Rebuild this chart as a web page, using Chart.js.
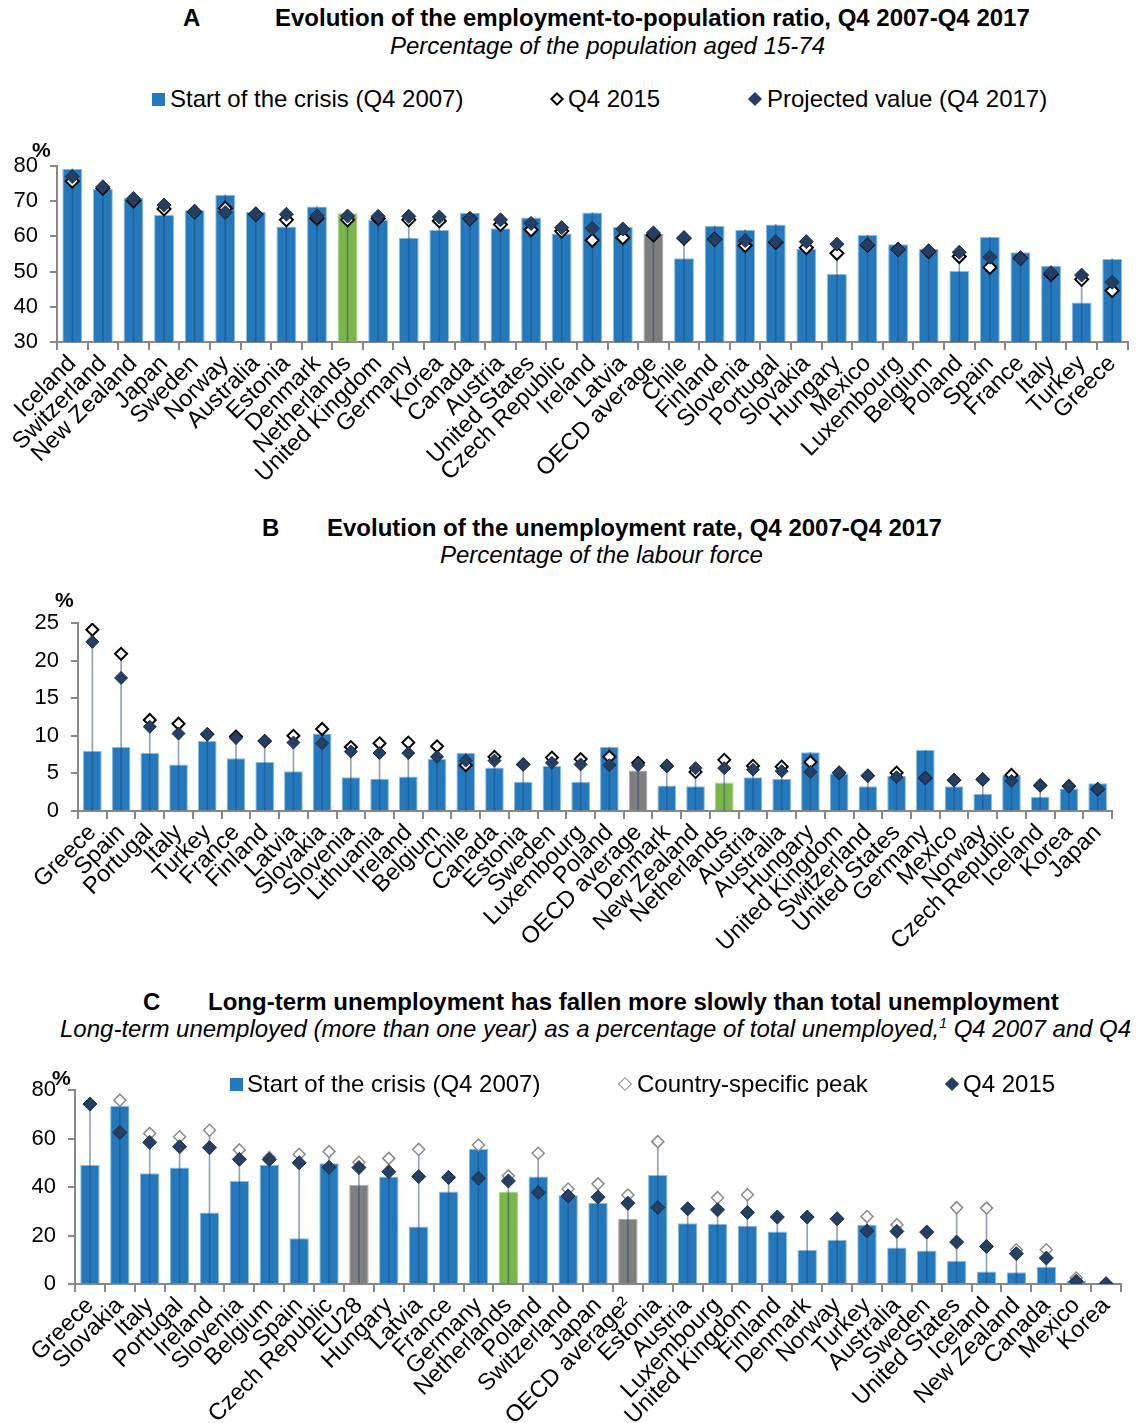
<!DOCTYPE html>
<html>
<head>
<meta charset="utf-8">
<script src="https://cdn.jsdelivr.net/npm/chart.js@4.4.1/dist/chart.umd.min.js"></script>
<style>
  body { margin: 0; width: 1136px; height: 1423px; background: #fff; position: relative; overflow: hidden;
         font-family: "Liberation Sans", Arial, sans-serif; color: #000; }
  canvas { position: absolute; left: 0; }
  .t { position: absolute; white-space: nowrap; line-height: 24px; }
  .h { font-weight: bold; font-size: 24px; }
  .s { font-style: italic; font-size: 24px; }
  .lg { font-size: 24px; }
  .sup { font-size: 14px; position: relative; top: -9px; line-height: 0; }
  .pc { position: absolute; font-weight: bold; font-size: 21px; line-height: 21px; }
  .sq { position: absolute; width: 13px; height: 13px; background: #2479bd; }
  .dm { position: absolute; width: 10px; height: 10px; transform: rotate(45deg); box-sizing: border-box; }
  .dm.hol { background: #fff; border: 2px solid #000; }
  .dm.holc { background: #fff; border: 1.5px solid #888; }
  .dm.fil { background: #243f62; }
</style>
</head>
<body>

<canvas id="chartA" width="1136" height="340" style="top:140px"></canvas>
<canvas id="chartB" width="1136" height="370" style="top:590px"></canvas>
<canvas id="chartC" width="1136" height="363" style="top:1060px"></canvas>

<!-- panel A text -->
<div class="t h" style="left:183px;top:6px">A</div>
<div class="t h" style="left:275px;top:6px">Evolution of the employment-to-population ratio, Q4 2007-Q4 2017</div>
<div class="t s" style="left:390px;top:34px">Percentage of the population aged 15-74</div>
<div class="sq" style="left:152px;top:93px"></div>
<div class="t lg" style="left:170px;top:87px">Start of the crisis (Q4 2007)</div>
<div class="dm hol" style="left:552px;top:94px"></div>
<div class="t lg" style="left:568px;top:87px">Q4 2015</div>
<div class="dm fil" style="left:750px;top:94px"></div>
<div class="t lg" style="left:767px;top:87px">Projected value (Q4 2017)</div>
<div class="pc" style="left:32px;top:139px">%</div>

<!-- panel B text -->
<div class="t h" style="left:262px;top:516px">B</div>
<div class="t h" style="left:327px;top:516px">Evolution of the unemployment rate, Q4 2007-Q4 2017</div>
<div class="t s" style="left:440px;top:543px">Percentage of the labour force</div>
<div class="pc" style="left:55px;top:589px">%</div>

<!-- panel C text -->
<div class="t h" style="left:143px;top:990px">C</div>
<div class="t h" style="left:208px;top:990px">Long-term unemployment has fallen more slowly than total unemployment</div>
<div class="t s" style="left:60px;top:1017px">Long-term unemployed (more than one year) as a percentage of total unemployed,<span class="sup">1</span> Q4 2007 and Q4</div>
<div class="sq" style="left:230px;top:1078px"></div>
<div class="t lg" style="left:247px;top:1072px">Start of the crisis (Q4 2007)</div>
<div class="dm holc" style="left:620px;top:1079px"></div>
<div class="t lg" style="left:637px;top:1072px">Country-specific peak</div>
<div class="dm fil" style="left:947px;top:1079px"></div>
<div class="t lg" style="left:963px;top:1072px">Q4 2015</div>
<div class="pc" style="left:52px;top:1067px">%</div>

<script>
// ─── DATA: PANEL A (employment-to-population ratio, %) ───────────────────────
const A_CATS = ["Iceland", "Switzerland", "New Zealand", "Japan", "Sweden", "Norway", "Australia",
  "Estonia", "Denmark", "Netherlands", "United Kingdom", "Germany", "Korea", "Canada", "Austria",
  "United States", "Czech Republic", "Ireland", "Latvia", "OECD average", "Chile", "Finland",
  "Slovenia", "Portugal", "Slovakia", "Hungary", "Mexico", "Luxembourg", "Belgium", "Poland",
  "Spain", "France", "Italy", "Turkey", "Greece"];
const A_START = [79.2, 73.5, 71.0, 66.1, 67.4, 71.8, 67.0, 62.8, 68.5, 66.6, 64.8, 59.6, 61.8, 66.7, 62.3,
  65.4, 60.8, 66.8, 62.7, 60.7, 53.8, 63.0, 61.9, 63.4, 56.4, 49.3, 60.4, 57.8, 56.5, 50.2,
  59.8, 55.5, 51.6, 41.2, 53.6];
const A_Q2015 = [75.7, 73.7, 70.1, 67.8, 67.0, 68.0, 66.3, 64.7, 65.1, 64.7, 65.1, 64.7, 64.4, 65.0, 63.4,
  61.9, 61.5, 58.9, 59.6, 60.4, 59.5, 59.2, 57.4, 58.3, 56.8, 55.2, 57.5, 56.3, 55.7, 54.3,
  51.2, 53.8, 49.2, 47.8, 44.6];
const A_PROJ = [77.0, 74.1, 70.8, 68.9, 67.0, 66.8, 66.3, 66.3, 65.8, 65.8, 65.7, 65.7, 65.5, 65.1, 64.7,
  63.7, 62.5, 62.3, 62.1, 61.0, 59.6, 59.2, 58.8, 58.5, 58.5, 57.8, 57.6, 56.3, 55.9, 55.5,
  54.1, 53.8, 49.7, 49.0, 47.0];

// ─── DATA: PANEL B (unemployment rate, %) ────────────────────────────────────
const B_CATS = ["Greece", "Spain", "Portugal", "Italy", "Turkey", "France", "Finland", "Latvia",
  "Slovakia", "Slovenia", "Lithuania", "Ireland", "Belgium", "Chile", "Canada", "Estonia", "Sweden",
  "Luxembourg", "Poland", "OECD average", "Denmark", "New Zealand", "Netherlands", "Austria",
  "Australia", "Hungary", "United Kingdom", "Switzerland", "United States", "Germany", "Mexico",
  "Norway", "Czech Republic", "Iceland", "Korea", "Japan"];
const B_START = [8.0, 8.5, 7.7, 6.2, 9.3, 7.0, 6.5, 5.3, 10.3, 4.5, 4.3, 4.6, 6.9, 7.7, 5.8, 3.9, 6.0,
  3.9, 8.5, 5.4, 3.4, 3.3, 3.8, 4.5, 4.3, 7.8, 5.0, 3.3, 4.7, 8.1, 3.3, 2.3, 4.8, 1.9, 3.0, 3.7];
const B_Q2015 = [24.1, 20.9, 12.1, 11.6, 10.2, 9.9, 9.3, 10.0, 10.9, 8.5, 9.0, 9.1, 8.6, 6.1, 7.2, 6.2, 7.1,
  6.9, 7.2, 6.4, 6.0, 5.2, 6.8, 6.0, 5.9, 6.5, 5.1, 4.7, 5.1, 4.4, 4.1, 4.2, 4.8, 3.4, 3.3, 2.9];
const B_PROJ = [22.5, 17.7, 11.2, 10.3, 10.2, 9.7, 9.3, 9.1, 9.0, 7.9, 7.7, 7.7, 7.2, 6.7, 6.7, 6.2, 6.4,
  6.2, 6.1, 6.1, 6.0, 5.7, 5.7, 5.5, 5.3, 5.2, 5.1, 4.7, 4.5, 4.4, 4.1, 4.2, 4.0, 3.4, 3.3, 2.9];

// ─── DATA: PANEL C (long-term unemployed, % of unemployed) ───────────────────
const C_CATS = ["Greece", "Slovakia", "Italy", "Portugal", "Ireland", "Slovenia", "Belgium", "Spain",
  "Czech Republic", "EU28", "Hungary", "Latvia", "France", "Germany", "Netherlands", "Poland",
  "Switzerland", "Japan", "OECD average²", "Estonia", "Austria", "Luxembourg", "United Kingdom",
  "Finland", "Denmark", "Norway", "Turkey", "Australia", "Sweden", "United States", "Iceland",
  "New Zealand", "Canada", "Mexico", "Korea"];
const C_START = [49.1, 73.5, 45.7, 48.0, 29.5, 42.5, 49.1, 18.9, 49.8, 40.9, 44.3, 23.7, 38.1, 55.7, 38.0,
  44.3, 36.6, 33.5, 26.9, 45.0, 25.1, 24.8, 24.0, 21.7, 14.1, 18.2, 24.4, 15.1, 13.8, 9.6, 5.2,
  4.8, 7.1, 1.4, 0.4];
const C_PEAK = [74.2, 75.8, 62.1, 60.7, 63.4, 55.3, 52.1, 53.5, 54.6, 50.2, 51.8, 55.5, 44.2, 57.3, 44.6,
  53.9, 39.2, 41.3, 36.7, 58.7, 31.0, 35.6, 36.8, 27.6, 27.6, 26.9, 27.8, 24.4, 21.4, 31.5, 31.3,
  14.1, 14.1, 2.5, 0.3];
const C_Q2015 = [74.2, 62.5, 58.4, 56.6, 56.2, 51.4, 51.3, 50.0, 48.1, 48.0, 46.3, 44.3, 43.9, 43.6, 42.5,
  37.7, 36.3, 35.8, 33.3, 31.5, 31.0, 30.6, 29.5, 27.6, 27.6, 26.9, 21.9, 21.7, 21.4, 17.3, 15.5,
  12.5, 10.7, 1.1, 0.1];

// ─── STYLE HELPERS ───────────────────────────────────────────────────────────
const FONT = "'Liberation Sans', Arial, sans-serif";
const AXIS_GREY = "#878787";

function barColor(cat) {
  if (cat.startsWith("OECD average") || cat === "EU28") return "#7f7f7f";
  if (cat === "Netherlands") return "#7ab648";
  return "#2479bd";
}
function barEdge(cat) {
  if (cat.startsWith("OECD average") || cat === "EU28") return "#a6a6a6";
  if (cat === "Netherlands") return "#a8d080";
  return "#8ebde3";
}

// ─── PANEL BUILDER ───────────────────────────────────────────────────────────
function makePanel(id, cats, start, hollow, filled, cfg) {
  const top = cats.map((_, i) => Math.max(start[i], hollow[i], filled[i]));
  return new Chart(document.getElementById(id), {
    type: "bar",
    data: {
      labels: cats,
      datasets: [
        {
          data: start,
          backgroundColor: cats.map(barColor),
          borderColor: cats.map(barEdge),
          borderWidth: 1,
          categoryPercentage: 1,
          barPercentage: 0.65,
          grouped: false,
          order: 4,
        },
        {
          data: top.map(v => [cfg.min, v]),
          backgroundColor: "rgba(38,70,120,0.5)",
          barThickness: 1,
          grouped: false,
          order: 3,
        },
        {
          type: "line",
          data: hollow,
          showLine: false,
          pointStyle: "rectRot",
          pointRadius: cfg.hollowR,
          pointBackgroundColor: "#fff",
          pointBorderColor: cfg.hollowEdge,
          pointBorderWidth: cfg.hollowW,
          order: 2,
        },
        {
          type: "line",
          data: filled,
          showLine: false,
          pointStyle: "rectRot",
          pointRadius: cfg.filledR,
          pointBackgroundColor: "#243f62",
          pointBorderColor: "#1b2e48",
          pointBorderWidth: 1,
          order: 1,
        },
      ],
    },
    options: {
      responsive: false,
      animation: false,
      devicePixelRatio: 1,
      layout: { padding: { top: cfg.padTop, right: cfg.padRight, left: 0, bottom: 0 } },
      plugins: { legend: { display: false }, tooltip: { enabled: false }, title: { display: false } },
      scales: {
        x: {
          ticks: {
            color: "#000", font: { family: FONT, size: 23.5 },
            autoSkip: false, maxRotation: 45, minRotation: 45, padding: 0,
          },
          grid: { offset: true, drawOnChartArea: false, drawTicks: true, tickLength: 8, color: AXIS_GREY, lineWidth: 2 },
          border: { display: true, color: AXIS_GREY, width: 2 },
          afterFit(s) { s.height = cfg.bottom; },
        },
        y: {
          min: cfg.min, max: cfg.max,
          ticks: { stepSize: cfg.step, color: "#000", font: { family: FONT, size: 22 }, padding: 12 },
          grid: { drawOnChartArea: false, drawTicks: true, tickLength: 7, color: AXIS_GREY, lineWidth: 2 },
          border: { display: true, color: AXIS_GREY, width: 2 },
          afterFit(s) { s.width = cfg.left; },
        },
      },
    },
  });
}

// ─── RENDER ──────────────────────────────────────────────────────────────────
makePanel("chartA", A_CATS, A_START, A_Q2015, A_PROJ, {
  min: 30, max: 80, step: 10, left: 57, padTop: 26, padRight: 4, bottom: 138,
  hollowR: 6.5, hollowW: 2, hollowEdge: "#000", filledR: 7,
});
makePanel("chartB", B_CATS, B_START, B_Q2015, B_PROJ, {
  min: 0, max: 25, step: 5, left: 78, padTop: 33, padRight: 24, bottom: 149,
  hollowR: 6, hollowW: 2, hollowEdge: "#000", filledR: 6.5,
});
makePanel("chartC", C_CATS, C_START, C_PEAK, C_Q2015, {
  min: 0, max: 80, step: 20, left: 75, padTop: 30, padRight: 15, bottom: 139,
  hollowR: 6, hollowW: 1.5, hollowEdge: "#8a8a8a", filledR: 7,
});
</script>
</body>
</html>
